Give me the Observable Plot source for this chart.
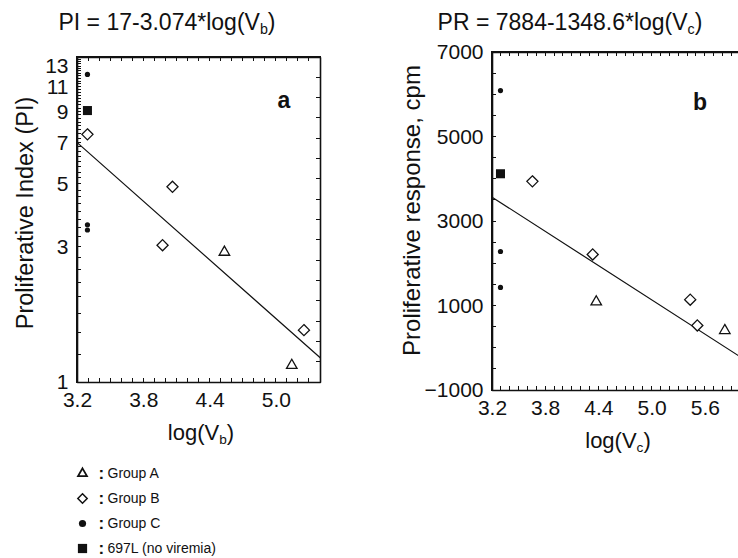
<!DOCTYPE html>
<html><head><meta charset="utf-8">
<script src="https://cdn.jsdelivr.net/npm/d3@7"></script>
<script src="https://cdn.jsdelivr.net/npm/@observablehq/plot@0.6"></script>
<style>
html,body{margin:0;padding:0;background:#fff;overflow:hidden;width:738px;height:558px}
#root{position:relative;width:738px;height:558px;font-family:"Liberation Sans",Arial,sans-serif;color:#111;overflow:hidden}
.txt{position:absolute;white-space:nowrap;text-align:center;width:400px}
.txt sub{font-size:62%;vertical-align:-0.28em;line-height:0}
.panel{position:absolute;top:0;overflow:visible}
.panel svg{max-width:none !important}
.fr{position:absolute;box-sizing:border-box;border:1.6px solid #111;pointer-events:none}
.tk{position:absolute;background:#111;pointer-events:none}
</style></head><body><div id="root"></div>
<script>
// ---------- data : panel a (log y) ----------
const aGroupAX = [4.53, 5.14];
const aGroupAY = [2.88, 1.15];
const aGroupBX = [3.29, 4.06, 3.97, 5.25];
const aGroupBY = [7.5, 4.9, 3.05, 1.53];
const aGroupCX = [3.29, 3.29, 3.29];
const aGroupCY = [12.2, 3.6, 3.45];
const a697LX = [3.29];
const a697LY = [9.1];
const aFitX = [3.2, 5.4];
const aFitY = [7.0, 1.22];
const aXTicks = [3.2, 3.8, 4.4, 5.0];
const aYTicks = [1, 3, 5, 7, 9, 11, 13];

// ---------- data : panel b (linear y) ----------
const bGroupAX = [4.37, 5.82];
const bGroupAY = [1100, 420];
const bGroupBX = [3.65, 4.33, 5.43, 5.51];
const bGroupBY = [3950, 2220, 1150, 540];
const bGroupCX = [3.29, 3.29, 3.29];
const bGroupCY = [6100, 2290, 1440];
const b697LX = [3.29];
const b697LY = [4130];
const bFitX = [3.2, 6.2];
const bFitY = [3570, -480];
const bXTicks = [3.2, 3.8, 4.4, 5.0, 5.6];
const bYTicks = [-1000, 1000, 3000, 5000, 7000];

const legendLabels = ["Group A", "Group B", "Group C", "697L (no viremia)"];

const zip = (xs, ys) => xs.map((x, i) => ({x, y: ys[i]}));
const FONT = '"Liberation Sans", Arial, sans-serif';
const INK = "#111";

function frameLine(xd, yd) {
  const corners = [
    {x: xd[0], y: yd[0]}, {x: xd[1], y: yd[0]}, {x: xd[1], y: yd[1]},
    {x: xd[0], y: yd[1]}, {x: xd[0], y: yd[0]}
  ];
  return Plot.line(corners, {x: "x", y: "y", stroke: INK, strokeWidth: 1.6, strokeLinejoin: "miter"});
}
function groupMarks(A, B, C, S, fit) {
  return [
    Plot.line(fit, {x: "x", y: "y", stroke: INK, strokeWidth: 1.2}),
    Plot.dot(A, {x: "x", y: "y", symbol: "triangle", r: 3.9, stroke: INK, strokeWidth: 1.3, fill: "white"}),
    Plot.dot(B, {x: "x", y: "y", symbol: "diamond2", r: 5, stroke: INK, strokeWidth: 1.3, fill: "white"}),
    Plot.dot(C, {x: "x", y: "y", symbol: "circle", r: 2.6, fill: INK, stroke: "none"}),
    Plot.dot(S, {x: "x", y: "y", symbol: "square", r: 5.1, fill: INK, stroke: "none"})
  ];
}

const style = {fontSize: "21px", fontFamily: FONT, color: INK, background: "transparent", overflow: "visible", maxWidth: "none"};

// panel a
const aXD = [3.2, 5.4], aYD = [1, 14];
const aMinorX = d3.range(3.2, 5.401, 0.1);
const aMinorY = d3.range(1, 14.01, 0.25);
const aRightY = d3.range(1, 16).map(k => Math.pow(14, k / 16));
const plotA = Plot.plot({
  width: 340, height: 430, marginLeft: 77, marginTop: 57, marginRight: 20, marginBottom: 48,
  x: {domain: aXD}, y: {type: "log", domain: aYD}, style,
  marks: [
    Plot.axisX({ticks: aXTicks, tickSize: 0, tickPadding: 10, tickFormat: d3.format(".1f"), label: null}),
    Plot.axisY({ticks: aYTicks, tickSize: 0, tickPadding: 9, tickFormat: d3.format("d"), label: null}),
    frameLine(aXD, aYD),
    ...groupMarks(zip(aGroupAX, aGroupAY), zip(aGroupBX, aGroupBY), zip(aGroupCX, aGroupCY), zip(a697LX, a697LY), zip(aFitX, aFitY)),
    Plot.text(["Proliferative Index (PI)"], {frameAnchor: "left", dx: -52, dy: -7, rotate: -90, textAnchor: "middle", fontSize: 23.5})
  ]
});

// panel b
const bXD = [3.2, 6.2], bYD = [-1000, 7000];
const bMinorX = d3.range(3.2, 6.201, 0.1);
const bMinorY = d3.range(-1000, 7001, 500);
const plotB = Plot.plot({
  width: 360, height: 450, marginLeft: 92, marginTop: 52, marginRight: 2, marginBottom: 60,
  x: {domain: bXD}, y: {domain: bYD}, style,
  marks: [
    Plot.axisX({ticks: bXTicks, tickSize: 0, tickPadding: 10, tickFormat: d3.format(".1f"), label: null}),
    Plot.axisY({ticks: bYTicks, tickSize: 0, tickPadding: 9, tickFormat: d3.format("d"), label: null}),
    frameLine(bXD, bYD),
    ...groupMarks(zip(bGroupAX, bGroupAY), zip(bGroupBX, bGroupBY), zip(bGroupCX, bGroupCY), zip(b697LX, b697LY), zip(bFitX, bFitY)),
    Plot.text(["Proliferative response, cpm"], {frameAnchor: "left", dx: -80, dy: -11, rotate: -90, textAnchor: "middle", fontSize: 24})
  ]
});

// legend (symbols and labels drawn by Plot)
const legY = d => d;
const plotLeg = Plot.plot({
  width: 220, height: 105, margin: 0, axis: null,
  y: {type: "point", domain: legendLabels, range: [17, 93], padding: 0},
  style: {fontFamily: FONT, color: INK, background: "transparent", overflow: "visible", maxWidth: "none"},
  marks: [
    Plot.dot([legendLabels[0]], {y: legY, frameAnchor: "left", dx: 12, symbol: "triangle", r: 3.3, stroke: INK, strokeWidth: 1.8, fill: "white"}),
    Plot.dot([legendLabels[1]], {y: legY, frameAnchor: "left", dx: 12, symbol: "diamond2", r: 4.2, stroke: INK, strokeWidth: 1.5, fill: "white"}),
    Plot.dot([legendLabels[2]], {y: legY, frameAnchor: "left", dx: 12, symbol: "circle", r: 3.6, fill: INK, stroke: "none"}),
    Plot.dot([legendLabels[3]], {y: legY, frameAnchor: "left", dx: 12, symbol: "square", r: 5.2, fill: INK, stroke: "none"}),
    Plot.text(legendLabels, {y: legY, frameAnchor: "left", dx: 28, text: () => ":", fontWeight: "bold", fontSize: 17}),
    Plot.text(legendLabels, {y: legY, frameAnchor: "left", dx: 37, text: d => d, textAnchor: "start", fontSize: 14})
  ]
});

const root = document.getElementById("root");
function addPanel(left, top, w, h, svg) {
  const p = document.createElement("div");
  p.className = "panel";
  p.style.left = left + "px"; p.style.top = top + "px"; p.style.width = w + "px"; p.style.height = h + "px";
  p.appendChild(svg);
  root.appendChild(p);
}
addPanel(0, 0, 340, 430, plotA);
addPanel(400, 0, 360, 450, plotB);
addPanel(70, 455, 220, 105, plotLeg);

// frame and inward ticks placed with the plots' own scales
function addBox(cls, l, t, w, h) {
  const d = document.createElement("div");
  d.className = cls;
  d.style.left = l + "px"; d.style.top = t + "px"; d.style.width = w + "px"; d.style.height = h + "px";
  root.appendChild(d);
}
function decorate(svg, offX, offY, xd, yd, xTicks, yLeft, yRight) {
  const X = svg.scale("x"), Y = svg.scale("y");
  const x0 = offX + X.apply(xd[0]), x1 = offX + X.apply(xd[1]);
  const yb = offY + Y.apply(yd[0]), yt = offY + Y.apply(yd[1]);
  addBox("fr", x0 - 0.8, yt - 0.8, x1 - x0 + 1.6, yb - yt + 1.6);
  const L = 4;
  xTicks.forEach(v => {
    const px = offX + X.apply(v);
    addBox("tk", px - 0.5, yb - L, 1, L);
    addBox("tk", px - 0.5, yt, 1, L);
  });
  yLeft.forEach(v => addBox("tk", x0, offY + Y.apply(v) - 0.5, L, 1));
  if (yRight) yRight.forEach(v => addBox("tk", x1 - L, offY + Y.apply(v) - 0.5, L, 1));
}
decorate(plotA, 0, 0, aXD, aYD, aMinorX, aMinorY, aRightY);
decorate(plotB, 400, 0, bXD, bYD, bMinorX, bMinorY, null);

function addText(html, cx, cy, size, bold) {
  const d = document.createElement("div");
  d.className = "txt";
  const lh = Math.round(size * 1.2);
  d.style.left = (cx - 200) + "px";
  d.style.top = (cy - lh / 2) + "px";
  d.style.lineHeight = lh + "px";
  d.style.fontSize = size + "px";
  if (bold) d.style.fontWeight = "bold";
  d.innerHTML = html;
  root.appendChild(d);
}
addText("PI = 17-3.074*log(V<sub>b</sub>)", 167, 22, 23);
addText("PR = 7884-1348.6*log(V<sub>c</sub>)", 570, 22, 23);
addText("log(V<sub>b</sub>)", 201, 433, 22);
addText("log(V<sub>c</sub>)", 618, 441, 22);
addText("a", 284, 100, 23, true);
addText("b", 700, 102, 23, true);
</script>
</body></html>
